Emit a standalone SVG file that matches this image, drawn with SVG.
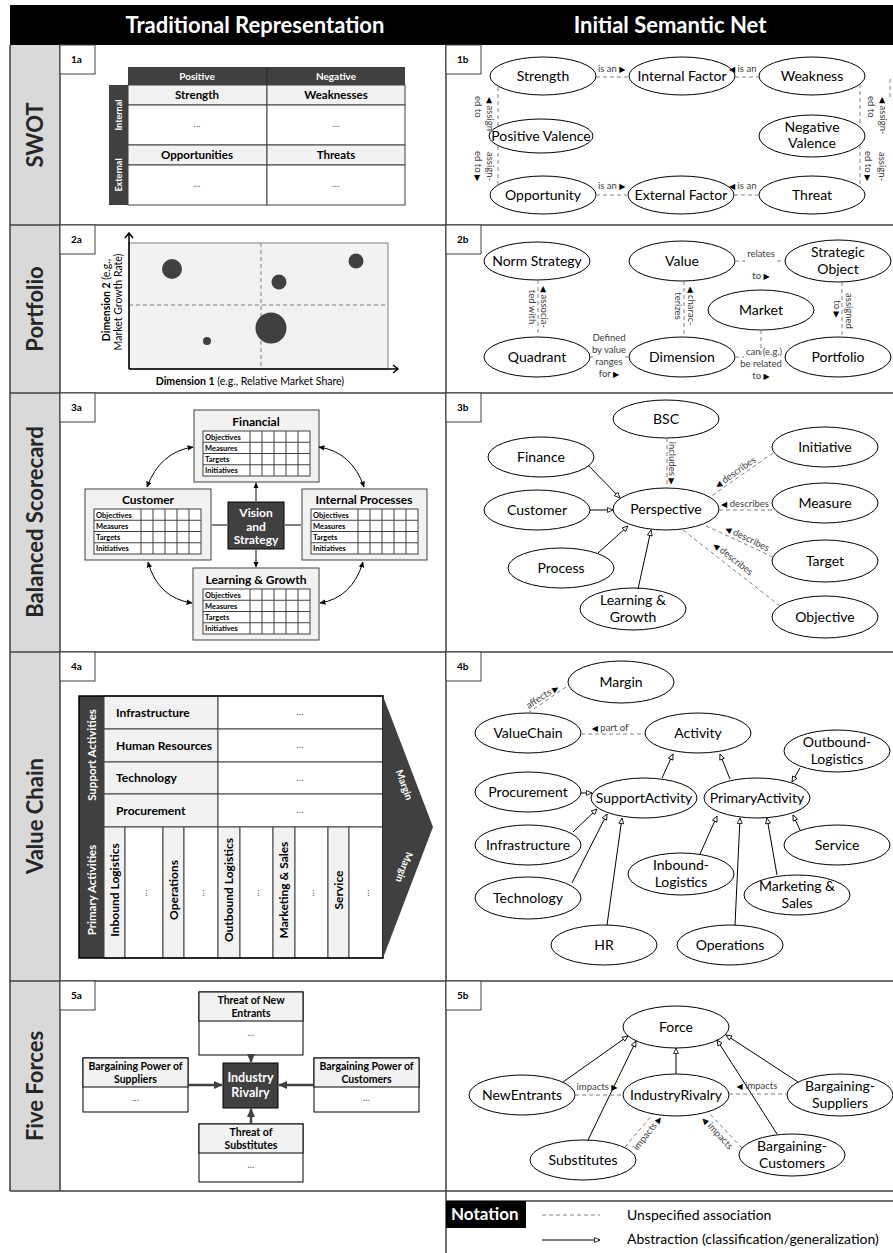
<svg xmlns="http://www.w3.org/2000/svg" width="893" height="1253" viewBox="0 0 893 1253">
<defs>
<style>
text{font-family:Lato,"Open Sans","Liberation Sans",sans-serif;fill:#000}
.hd{font-size:22px;font-weight:bold;fill:#fff;text-anchor:middle}
.rl{font-size:22px;font-weight:bold;fill:#262626;text-anchor:middle}
.grid{stroke:#404040;stroke-width:1.5;fill:none}
.tag rect{fill:#fff;stroke:#404040;stroke-width:1}
.tag text{font-size:10px;font-weight:bold}
.n ellipse{fill:#fff;stroke:#000;stroke-width:1}
.n text{font-size:14px;text-anchor:middle}
.dl{stroke:#808080;stroke-width:1;stroke-dasharray:4 3;fill:none}
.gl{stroke:#000;stroke-width:1;fill:none;marker-end:url(#gen)}
.sl{font-size:9.5px;fill:#404040}
.tri{font-family:"DejaVu Sans",sans-serif;font-size:8px;fill:#000}
.mid{text-anchor:middle}
.bd{font-weight:bold}
.wb{font-weight:bold;fill:#fff}
.cl{stroke:#404040;stroke-width:1}
.dots{font-size:10px;fill:#595959;text-anchor:middle}
.bt{font-size:7.5px;font-weight:bold}
.da{stroke:#000;stroke-width:1;fill:none;marker-start:url(#ah);marker-end:url(#ah)}
.fa{stroke:#404040;stroke-width:2.5;fill:none;marker-end:url(#ah2)}
.lt{fill:#f2f2f2}
</style>
<marker id="gen" viewBox="0 0 10 10" refX="9" refY="5" markerWidth="7" markerHeight="7" orient="auto" markerUnits="userSpaceOnUse">
<path d="M1,1.5 L9,5 L1,8.5 Z" fill="#fff" stroke="#000" stroke-width="1.2"/>
</marker>
<marker id="ah" viewBox="0 0 10 10" refX="9" refY="5" markerWidth="6" markerHeight="6" orient="auto-start-reverse" markerUnits="userSpaceOnUse">
<path d="M0,0.5 L10,5 L0,9.5 Z" fill="#000"/>
</marker>
<marker id="ah2" viewBox="0 0 10 10" refX="9" refY="5" markerWidth="9" markerHeight="9" orient="auto" markerUnits="userSpaceOnUse">
<path d="M0,0.5 L10,5 L0,9.5 Z" fill="#404040"/>
</marker>
<g id="bt">
<rect width="107" height="45" fill="#fff" stroke="#404040"/>
<path d="M47,0V45M59,0V45M71,0V45M83,0V45M95,0V45M0,11.25H107M0,22.5H107M0,33.75H107" class="cl"/>
<text x="2" y="8.6" class="bt">Objectives</text>
<text x="2" y="19.8" class="bt">Measures</text>
<text x="2" y="31.1" class="bt">Targets</text>
<text x="2" y="42.3" class="bt">Initiatives</text>
</g>
</defs>

<rect width="893" height="1253" fill="#fff"/>

<g id="frame">
<rect x="10" y="5" width="883" height="40" fill="#000"/>
<text class="hd" x="255" y="33">Traditional Representation</text>
<text class="hd" x="670" y="33">Initial Semantic Net</text>
<rect x="10" y="45" width="50" height="1146" fill="#d9d9d9"/>
<path class="grid" d="M10,45V1191M60,45V1191M446,45V1253M10,225H893M10,393H893M10,652H893M10,981H893M10,1191H893M446,1201H893"/>
<text class="rl" transform="translate(43,135) rotate(-90)">SWOT</text>
<text class="rl" transform="translate(43,309) rotate(-90)">Portfolio</text>
<text class="rl" transform="translate(43,522) rotate(-90)">Balanced Scorecard</text>
<text class="rl" transform="translate(43,816) rotate(-90)">Value Chain</text>
<text class="rl" transform="translate(43,1086) rotate(-90)">Five Forces</text>
</g>

<g id="tags">
<g class="tag" id="tag-1a"><rect x="60" y="45" width="35" height="29"/><text x="71" y="63">1a</text></g>
<g class="tag" id="tag-1b"><rect x="446" y="45" width="35" height="29"/><text x="457" y="63">1b</text></g>
<g class="tag" id="tag-2a"><rect x="60" y="225" width="35" height="29"/><text x="71" y="243">2a</text></g>
<g class="tag" id="tag-2b"><rect x="446" y="225" width="35" height="29"/><text x="457" y="243">2b</text></g>
<g class="tag" id="tag-3a"><rect x="60" y="393" width="35" height="29"/><text x="71" y="411">3a</text></g>
<g class="tag" id="tag-3b"><rect x="446" y="393" width="35" height="29"/><text x="457" y="411">3b</text></g>
<g class="tag" id="tag-4a"><rect x="60" y="652" width="35" height="29"/><text x="71" y="670">4a</text></g>
<g class="tag" id="tag-4b"><rect x="446" y="652" width="35" height="29"/><text x="457" y="670">4b</text></g>
<g class="tag" id="tag-5a"><rect x="60" y="981" width="35" height="29"/><text x="71" y="999">5a</text></g>
<g class="tag" id="tag-5b"><rect x="446" y="981" width="35" height="29"/><text x="457" y="999">5b</text></g>
</g>

<!-- 1a SWOT table -->
<g id="swot-table">
<rect x="128" y="67" width="277" height="18" fill="#404040"/>
<line x1="267" y1="67" x2="267" y2="85" stroke="#262626"/>
<text class="wb mid" x="197" y="80" font-size="10">Positive</text>
<text class="wb mid" x="336" y="80" font-size="10">Negative</text>
<rect x="109" y="85" width="19" height="60" fill="#404040"/>
<rect x="109" y="145" width="19" height="60" fill="#404040"/>
<text class="wb mid" font-size="9" transform="translate(122,115) rotate(-90)">Internal</text>
<text class="wb mid" font-size="9" transform="translate(122,175) rotate(-90)">External</text>
<rect class="lt cl" x="128" y="85" width="139" height="20"/>
<rect class="lt cl" x="267" y="85" width="138" height="20"/>
<rect class="cl" fill="#fff" x="128" y="105" width="139" height="40"/>
<rect class="cl" fill="#fff" x="267" y="105" width="138" height="40"/>
<rect class="lt cl" x="128" y="145" width="139" height="20"/>
<rect class="lt cl" x="267" y="145" width="138" height="20"/>
<rect class="cl" fill="#fff" x="128" y="165" width="139" height="40"/>
<rect class="cl" fill="#fff" x="267" y="165" width="138" height="40"/>
<text class="bd mid" x="197" y="99" font-size="11.5">Strength</text>
<text class="bd mid" x="336" y="99" font-size="11.5">Weaknesses</text>
<text class="bd mid" x="197" y="159" font-size="11.5">Opportunities</text>
<text class="bd mid" x="336" y="159" font-size="11.5">Threats</text>
<text class="dots" x="197" y="127">...</text>
<text class="dots" x="336" y="127">...</text>
<text class="dots" x="197" y="187">...</text>
<text class="dots" x="336" y="187">...</text>
</g>

<!-- 2a Portfolio chart -->
<g id="portfolio-chart">
<rect x="129" y="243" width="259" height="126" fill="#f2f2f2" stroke="#808080" stroke-width="1"/>
<line class="dl" x1="261" y1="243" x2="261" y2="369"/>
<line class="dl" x1="129" y1="305" x2="388" y2="305"/>
<circle cx="172" cy="269" r="10" fill="#404040"/>
<circle cx="279" cy="282" r="7.5" fill="#404040"/>
<circle cx="356" cy="261" r="7.5" fill="#404040"/>
<circle cx="271" cy="328" r="15.5" fill="#404040"/>
<circle cx="207" cy="341" r="4" fill="#404040"/>
<path d="M129,369V233M125,238L129,233L133,238M129,369H398M393,365L398,369L393,373" stroke="#000" stroke-width="1.5" fill="none"/>
<text font-size="10.5" class="mid" transform="translate(110,300) rotate(-90)"><tspan class="bd">Dimension 2</tspan> (e.g.,</text>
<text font-size="10.5" class="mid" transform="translate(122,302) rotate(-90)">Market Growth Rate)</text>
<text font-size="10.5" class="mid" x="250" y="385"><tspan class="bd">Dimension 1</tspan> (e.g., Relative Market Share)</text>
</g>

<!-- 3a BSC -->
<g id="bsc-financial"><rect class="lt" x="194" y="410" width="125" height="72" stroke="#404040"/><text class="bd mid" x="256" y="426" font-size="12">Financial</text><use href="#bt" x="203" y="431"/></g>
<g id="bsc-customer"><rect class="lt" x="85" y="489" width="126" height="71" stroke="#404040"/><text class="bd mid" x="148" y="504" font-size="12">Customer</text><use href="#bt" x="94" y="509"/></g>
<g id="bsc-internal"><rect class="lt" x="302" y="489" width="125" height="71" stroke="#404040"/><text class="bd mid" x="364" y="504" font-size="12">Internal Processes</text><use href="#bt" x="311" y="509"/></g>
<g id="bsc-learning"><rect class="lt" x="193" y="568" width="126" height="72" stroke="#404040"/><text class="bd mid" x="256" y="584" font-size="12">Learning &amp; Growth</text><use href="#bt" x="203" y="589"/></g>
<g id="bsc-vision"><rect x="228" y="502" width="56" height="47" fill="#404040" stroke="#000"/>
<text class="wb mid" x="256" y="517" font-size="12">Vision</text>
<text class="wb mid" x="256" y="530.5" font-size="12">and</text>
<text class="wb mid" x="256" y="544" font-size="12">Strategy</text></g>

<!-- 4a Value chain -->
<g id="value-chain-table">
<rect x="79" y="696" width="25" height="262" fill="#404040"/>
<text class="wb mid" font-size="11.5" transform="translate(96,755) rotate(-90)">Support Activities</text>
<text class="wb mid" font-size="11.5" transform="translate(96,890) rotate(-90)">Primary Activities</text>
<rect class="lt cl" x="104" y="696" width="114" height="33"/>
<rect class="lt cl" x="104" y="729" width="114" height="33"/>
<rect class="lt cl" x="104" y="762" width="114" height="32"/>
<rect class="lt cl" x="104" y="794" width="114" height="33"/>
<rect class="cl" fill="#fff" x="218" y="696" width="165" height="33"/>
<rect class="cl" fill="#fff" x="218" y="729" width="165" height="33"/>
<rect class="cl" fill="#fff" x="218" y="762" width="165" height="32"/>
<rect class="cl" fill="#fff" x="218" y="794" width="165" height="33"/>
<text class="bd" x="116" y="717" font-size="12">Infrastructure</text>
<text class="bd" x="116" y="750" font-size="12">Human Resources</text>
<text class="bd" x="116" y="782" font-size="12">Technology</text>
<text class="bd" x="116" y="815" font-size="12">Procurement</text>
<text class="dots" x="300" y="715">...</text>
<text class="dots" x="300" y="748">...</text>
<text class="dots" x="300" y="781">...</text>
<text class="dots" x="300" y="813">...</text>
<rect class="lt cl" x="104" y="827" width="21" height="131"/>
<rect class="cl" fill="#fff" x="125" y="827" width="38" height="131"/>
<rect class="lt cl" x="163" y="827" width="21" height="131"/>
<rect class="cl" fill="#fff" x="184" y="827" width="34" height="131"/>
<rect class="lt cl" x="218" y="827" width="22" height="131"/>
<rect class="cl" fill="#fff" x="240" y="827" width="33" height="131"/>
<rect class="lt cl" x="273" y="827" width="22" height="131"/>
<rect class="cl" fill="#fff" x="295" y="827" width="33" height="131"/>
<rect class="lt cl" x="328" y="827" width="21" height="131"/>
<rect class="cl" fill="#fff" x="349" y="827" width="34" height="131"/>
<g class="bd mid" font-size="12">
<text transform="translate(119,890) rotate(-90)">Inbound Logistics</text>
<text transform="translate(178,890) rotate(-90)">Operations</text>
<text transform="translate(233,890) rotate(-90)">Outbound Logistics</text>
<text transform="translate(288,890) rotate(-90)">Marketing &amp; Sales</text>
<text transform="translate(343,890) rotate(-90)">Service</text>
</g>
<text class="dots" transform="translate(147,893) rotate(-90)">...</text>
<text class="dots" transform="translate(204,893) rotate(-90)">...</text>
<text class="dots" transform="translate(259,893) rotate(-90)">...</text>
<text class="dots" transform="translate(314,893) rotate(-90)">...</text>
<text class="dots" transform="translate(369,893) rotate(-90)">...</text>
<rect x="79" y="696" width="304" height="262" fill="none" stroke="#000" stroke-width="1.5"/>
<polygon points="383,696 433,827 383,958" fill="#404040"/>
<text class="wb mid" font-size="10" transform="translate(401,786) rotate(70)">Margin</text>
<text class="wb mid" font-size="10" transform="translate(401,866) rotate(110)">Margin</text>
</g>

<!-- 5a Five forces -->
<g id="ff-new-entrants"><rect x="199" y="992" width="104" height="63" fill="#fff" stroke="#000"/><rect class="lt" x="199" y="992" width="104" height="29" stroke="#000"/>
<text class="bd mid" x="251" y="1004" font-size="10.5">Threat of New</text><text class="bd mid" x="251" y="1017" font-size="10.5">Entrants</text><text class="dots" x="251" y="1036">...</text></g>
<g id="ff-suppliers"><rect x="83" y="1058" width="105" height="54" fill="#fff" stroke="#000"/><rect class="lt" x="83" y="1058" width="105" height="29" stroke="#000"/>
<text class="bd mid" x="135.5" y="1070" font-size="10.5">Bargaining Power of</text><text class="bd mid" x="135.5" y="1083" font-size="10.5">Suppliers</text><text class="dots" x="135.5" y="1101">...</text></g>
<g id="ff-customers"><rect x="314" y="1058" width="105" height="54" fill="#fff" stroke="#000"/><rect class="lt" x="314" y="1058" width="105" height="29" stroke="#000"/>
<text class="bd mid" x="366.5" y="1070" font-size="10.5">Bargaining Power of</text><text class="bd mid" x="366.5" y="1083" font-size="10.5">Customers</text><text class="dots" x="366.5" y="1101">...</text></g>
<g id="ff-substitutes"><rect x="199" y="1124" width="104" height="58" fill="#fff" stroke="#000"/><rect class="lt" x="199" y="1124" width="104" height="29" stroke="#000"/>
<text class="bd mid" x="251" y="1136" font-size="10.5">Threat of</text><text class="bd mid" x="251" y="1149" font-size="10.5">Substitutes</text><text class="dots" x="251" y="1168">...</text></g>
<g id="ff-rivalry"><rect x="223" y="1063" width="55" height="45" fill="#404040" stroke="#000"/>
<text class="wb mid" x="250.5" y="1082" font-size="12.5">Industry</text><text class="wb mid" x="250.5" y="1097" font-size="12.5">Rivalry</text></g>

<!-- semantic nodes -->
<g id="n1-strength" class="n"><ellipse cx="543" cy="76" rx="53" ry="19"/><text x="543" y="81">Strength</text></g>
<g id="n1-internal" class="n"><ellipse cx="682" cy="76" rx="53" ry="19"/><text x="682" y="81">Internal Factor</text></g>
<g id="n1-weakness" class="n"><ellipse cx="812" cy="76" rx="53" ry="19"/><text x="812" y="81">Weakness</text></g>
<g id="n1-posval" class="n"><ellipse cx="541" cy="136" rx="52" ry="17"/><text x="541" y="141">Positive Valence</text></g>
<g id="n1-negval" class="n"><ellipse cx="812" cy="136" rx="53" ry="21"/><text x="812" y="132">Negative</text><text x="812" y="148">Valence</text></g>
<g id="n1-opportunity" class="n"><ellipse cx="543" cy="195" rx="53" ry="19"/><text x="543" y="200">Opportunity</text></g>
<g id="n1-external" class="n"><ellipse cx="681" cy="195" rx="53" ry="19"/><text x="681" y="200">External Factor</text></g>
<g id="n1-threat" class="n"><ellipse cx="812" cy="195" rx="53" ry="19"/><text x="812" y="200">Threat</text></g>

<g id="n2-norm" class="n"><ellipse cx="537" cy="261" rx="53" ry="19"/><text x="537" y="266">Norm Strategy</text></g>
<g id="n2-value" class="n"><ellipse cx="682" cy="261" rx="53" ry="20"/><text x="682" y="266">Value</text></g>
<g id="n2-strategic" class="n"><ellipse cx="838" cy="261" rx="53" ry="21"/><text x="838" y="257">Strategic</text><text x="838" y="274">Object</text></g>
<g id="n2-market" class="n"><ellipse cx="761" cy="310" rx="53" ry="20"/><text x="761" y="315">Market</text></g>
<g id="n2-quadrant" class="n"><ellipse cx="537" cy="357" rx="53" ry="20"/><text x="537" y="362">Quadrant</text></g>
<g id="n2-dimension" class="n"><ellipse cx="682" cy="357" rx="53" ry="20"/><text x="682" y="362">Dimension</text></g>
<g id="n2-portfolio" class="n"><ellipse cx="838" cy="357" rx="53" ry="20"/><text x="838" y="362">Portfolio</text></g>

<g id="n3-bsc" class="n"><ellipse cx="666" cy="419" rx="53" ry="19"/><text x="666" y="424">BSC</text></g>
<g id="n3-finance" class="n"><ellipse cx="541" cy="457" rx="53" ry="20"/><text x="541" y="462">Finance</text></g>
<g id="n3-customer" class="n"><ellipse cx="537" cy="510" rx="53" ry="20"/><text x="537" y="515">Customer</text></g>
<g id="n3-perspective" class="n"><ellipse cx="666" cy="509" rx="53" ry="21"/><text x="666" y="514">Perspective</text></g>
<g id="n3-process" class="n"><ellipse cx="561" cy="568" rx="53" ry="20"/><text x="561" y="573">Process</text></g>
<g id="n3-learning" class="n"><ellipse cx="633" cy="609" rx="53" ry="21"/><text x="633" y="605">Learning &amp;</text><text x="633" y="622">Growth</text></g>
<g id="n3-initiative" class="n"><ellipse cx="825" cy="447" rx="53" ry="20"/><text x="825" y="452">Initiative</text></g>
<g id="n3-measure" class="n"><ellipse cx="825" cy="503" rx="53" ry="20"/><text x="825" y="508">Measure</text></g>
<g id="n3-target" class="n"><ellipse cx="825" cy="561" rx="53" ry="21"/><text x="825" y="566">Target</text></g>
<g id="n3-objective" class="n"><ellipse cx="825" cy="617" rx="53" ry="21"/><text x="825" y="622">Objective</text></g>

<g id="n4-margin" class="n"><ellipse cx="621" cy="682" rx="53" ry="21"/><text x="621" y="687">Margin</text></g>
<g id="n4-valuechain" class="n"><ellipse cx="528" cy="733" rx="53" ry="20"/><text x="528" y="738">ValueChain</text></g>
<g id="n4-activity" class="n"><ellipse cx="698" cy="733" rx="53" ry="20"/><text x="698" y="738">Activity</text></g>
<g id="n4-outbound" class="n"><ellipse cx="837" cy="751" rx="53" ry="21"/><text x="837" y="747">Outbound-</text><text x="837" y="764">Logistics</text></g>
<g id="n4-procurement" class="n"><ellipse cx="528" cy="792" rx="53" ry="20"/><text x="528" y="797">Procurement</text></g>
<g id="n4-support" class="n"><ellipse cx="644" cy="798" rx="53" ry="20"/><text x="644" y="803">SupportActivity</text></g>
<g id="n4-primary" class="n"><ellipse cx="757" cy="798" rx="53" ry="20"/><text x="757" y="803">PrimaryActivity</text></g>
<g id="n4-infrastructure" class="n"><ellipse cx="528" cy="845" rx="53" ry="20"/><text x="528" y="850">Infrastructure</text></g>
<g id="n4-service" class="n"><ellipse cx="837" cy="845" rx="53" ry="20"/><text x="837" y="850">Service</text></g>
<g id="n4-inbound" class="n"><ellipse cx="681" cy="874" rx="53" ry="21"/><text x="681" y="870">Inbound-</text><text x="681" y="887">Logistics</text></g>
<g id="n4-marketing" class="n"><ellipse cx="797" cy="895" rx="53" ry="20"/><text x="797" y="891">Marketing &amp;</text><text x="797" y="908">Sales</text></g>
<g id="n4-technology" class="n"><ellipse cx="528" cy="898" rx="53" ry="21"/><text x="528" y="903">Technology</text></g>
<g id="n4-hr" class="n"><ellipse cx="604" cy="945" rx="53" ry="20"/><text x="604" y="950">HR</text></g>
<g id="n4-operations" class="n"><ellipse cx="730" cy="945" rx="53" ry="20"/><text x="730" y="950">Operations</text></g>

<g id="n5-force" class="n"><ellipse cx="676" cy="1027" rx="53" ry="21"/><text x="676" y="1032">Force</text></g>
<g id="n5-newentrants" class="n"><ellipse cx="522" cy="1095" rx="53" ry="20"/><text x="522" y="1100">NewEntrants</text></g>
<g id="n5-rivalry" class="n"><ellipse cx="676" cy="1095" rx="53" ry="21"/><text x="676" y="1100">IndustryRivalry</text></g>
<g id="n5-suppliers" class="n"><ellipse cx="840" cy="1095" rx="53" ry="21"/><text x="840" y="1091">Bargaining-</text><text x="840" y="1108">Suppliers</text></g>
<g id="n5-substitutes" class="n"><ellipse cx="583" cy="1160" rx="53" ry="20"/><text x="583" y="1165">Substitutes</text></g>
<g id="n5-customers" class="n"><ellipse cx="792" cy="1155" rx="53" ry="21"/><text x="792" y="1151">Bargaining-</text><text x="792" y="1168">Customers</text></g>

<g id="connectors">
<!-- BSC traditional arrows -->
<path class="da" d="M256,483V501M212,525H227M285,525H301M256,550V567"/>
<path class="da" d="M193,447Q160,452 147,487"/>
<path class="da" d="M319,447Q352,452 364,487"/>
<path class="da" d="M148,562Q158,598 192,603"/>
<path class="da" d="M363,562Q352,598 320,603"/>
<!-- five forces arrows -->
<path class="fa" d="M251,1055V1062"/>
<path class="fa" d="M251,1124V1109"/>
<path class="fa" d="M188,1085H222"/>
<path class="fa" d="M314,1085H279"/>

<!-- 1b -->
<path class="dl" d="M596,77H629M735,77H759M596,195H628M734,195H759M498,87V126M498,146V186M860,84V127M860,145V187M890,79V97"/>
<text class="sl" x="598" y="72">is an <tspan class="tri">▶</tspan></text>
<text class="sl" x="729" y="72"><tspan class="tri">◀</tspan> is an</text>
<text class="sl" x="598" y="189">is an <tspan class="tri">▶</tspan></text>
<text class="sl" x="729" y="189"><tspan class="tri">◀</tspan> is an</text>
<text class="sl" transform="translate(487,97) rotate(90)"><tspan class="tri">◀</tspan> assign-</text>
<text class="sl" transform="translate(475,96) rotate(90)">ed to</text>
<text class="sl" transform="translate(487,152) rotate(90)">assign-</text>
<text class="sl" transform="translate(475,151) rotate(90)">ed to <tspan class="tri">▶</tspan></text>
<text class="sl" transform="translate(880,97) rotate(90)"><tspan class="tri">◀</tspan> assign-</text>
<text class="sl" transform="translate(868,96) rotate(90)">ed to</text>
<text class="sl" transform="translate(879,152) rotate(90)">assign-</text>
<text class="sl" transform="translate(865,151) rotate(90)">ed to <tspan class="tri">▶</tspan></text>

<!-- 2b -->
<path class="dl" d="M538,280V337M684,281V337M842,282V337M735,261H785M590,357H630M735,357H785"/>
<rect x="745" y="249" width="32" height="33" fill="#fff"/>
<rect x="593" y="332" width="32" height="47" fill="#fff"/>
<rect x="744" y="346" width="40" height="37" fill="#fff"/>
<path class="dl" d="M761,330V357"/>
<text class="sl mid" transform="translate(541,307) rotate(90)"><tspan class="tri">◀</tspan> associa-</text>
<text class="sl mid" transform="translate(529,307) rotate(90)">ted with</text>
<text class="sl mid" transform="translate(688,306) rotate(90)"><tspan class="tri">◀</tspan> charac-</text>
<text class="sl mid" transform="translate(675,306) rotate(90)">terizes</text>
<text class="sl mid" transform="translate(846,311) rotate(90)">assigned</text>
<text class="sl mid" transform="translate(834,309) rotate(90)">to <tspan class="tri">▶</tspan></text>
<text class="sl mid" x="761" y="257">relates</text>
<text class="sl mid" x="761" y="279">to <tspan class="tri">▶</tspan></text>
<text class="sl mid" x="609" y="341">Defined</text>
<text class="sl mid" x="609" y="353">by value</text>
<text class="sl mid" x="609" y="365">ranges</text>
<text class="sl mid" x="609" y="377">for <tspan class="tri">▶</tspan></text>
<text class="sl mid" x="764" y="355">can (e.g.)</text>
<text class="sl mid" x="761" y="367">be related</text>
<text class="sl mid" x="761" y="379">to <tspan class="tri">▶</tspan></text>

<!-- 3b -->
<path class="gl" d="M588,465L620,498"/>
<path class="gl" d="M590,510H613"/>
<path class="gl" d="M598,553L628,526"/>
<path class="gl" d="M638,589L651,530"/>
<path class="dl" d="M667,438V488M773,453L710,497M719,510H772M773,557L702,524M780,606L683,530"/>
<text class="sl mid" transform="translate(669,463) rotate(90)">includes <tspan class="tri">▶</tspan></text>
<text class="sl mid" transform="translate(737,475) rotate(-35)"><tspan class="tri">◀</tspan> describes</text>
<text class="sl mid" x="745" y="507"><tspan class="tri">◀</tspan> describes</text>
<text class="sl mid" transform="translate(746,541) rotate(26)"><tspan class="tri">◀</tspan> describes</text>
<text class="sl mid" transform="translate(731,561) rotate(38)"><tspan class="tri">◀</tspan> describes</text>

<!-- 4b -->
<path class="dl" d="M528,713L569,685M581,734H645"/>
<text class="sl mid" transform="translate(544,699) rotate(-33)">affects <tspan class="tri">▶</tspan></text>
<text class="sl mid" x="610" y="731"><tspan class="tri">◀</tspan> part of</text>
<path class="gl" d="M662,778L673,754"/>
<path class="gl" d="M730,779L720,754"/>
<path class="gl" d="M581,793H592"/>
<path class="gl" d="M573,832L597,809"/>
<path class="gl" d="M572,883L607,814"/>
<path class="gl" d="M607,925L622,818"/>
<path class="gl" d="M800,768L792,782"/>
<path class="gl" d="M800,830L793,815"/>
<path class="gl" d="M700,854L717,816"/>
<path class="gl" d="M735,925L740,818"/>
<path class="gl" d="M777,875L767,818"/>

<!-- 5b -->
<path class="gl" d="M563,1082L628,1036"/>
<path class="gl" d="M588,1140L636,1041"/>
<path class="gl" d="M676,1074V1048"/>
<path class="gl" d="M777,1134L717,1040"/>
<path class="gl" d="M798,1082L726,1035"/>
<path class="dl" d="M575,1095H623M729,1094H787M625,1147L653,1114M742,1148L708,1112"/>
<text class="sl mid" x="597" y="1090">impacts <tspan class="tri">▶</tspan></text>
<text class="sl mid" x="757" y="1089"><tspan class="tri">◀</tspan> impacts</text>
<text class="sl mid" transform="translate(650,1135) rotate(-52)">impacts <tspan class="tri">▶</tspan></text>
<text class="sl mid" transform="translate(715,1135) rotate(47)"><tspan class="tri">◀</tspan> impacts</text>
</g>

<g id="notation">
<rect x="446" y="1201" width="80" height="27" fill="#000"/>
<text x="451" y="1220" font-size="17" class="wb">Notation</text>
<line class="dl" x1="542" y1="1215" x2="600" y2="1215"/>
<text x="627" y="1220" font-size="14">Unspecified association</text>
<line class="gl" x1="542" y1="1240" x2="600" y2="1240"/>
<text x="627" y="1244" font-size="14">Abstraction (classification/generalization)</text>
</g>
</svg>
